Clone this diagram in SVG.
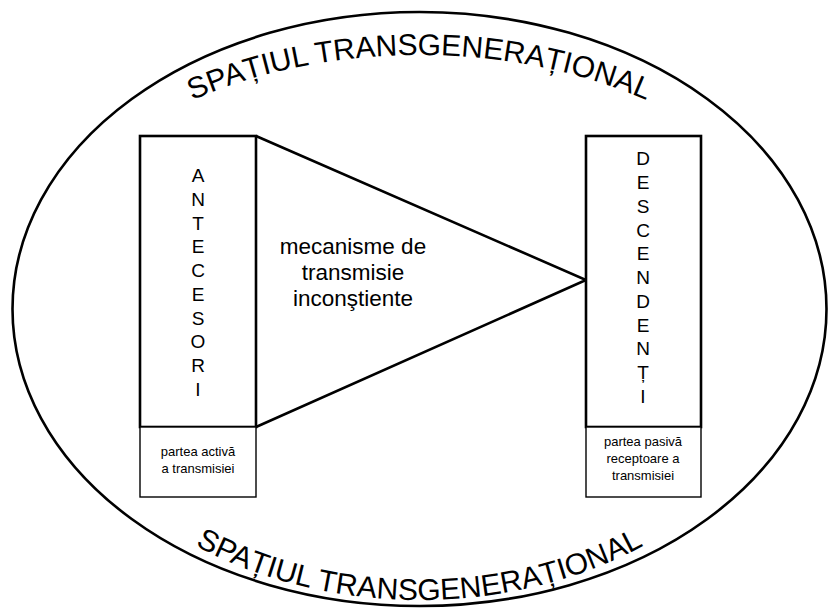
<svg xmlns="http://www.w3.org/2000/svg" xmlns:xlink="http://www.w3.org/1999/xlink" width="829" height="612" viewBox="0 0 829 612">
<style>
.frame{fill:none;stroke:#000;stroke-width:2.6}
.box{fill:#fff;stroke:#000;stroke-width:2.6}
.sub{fill:#fff;stroke:#000;stroke-width:1.4}
.vert{font-family:"Liberation Sans",Arial,sans-serif;font-size:19px;fill:#000;text-anchor:middle}
.small{font-family:"Liberation Sans",Arial,sans-serif;font-size:13px;fill:#000;text-anchor:middle}
.mid{font-family:"Liberation Sans",Arial,sans-serif;font-size:22.5px;fill:#000;text-anchor:middle}
.arc{font-family:"Liberation Sans",Arial,sans-serif;font-size:30px;fill:#000;text-anchor:middle}
.line{fill:none;stroke:#000;stroke-width:2.6;stroke-linejoin:miter}
</style>
<defs>
<path id="topArc" d="M 21,309 A 398.5,254 0 0 1 818,309"/>
<path id="botArc" d="M 34.5,309 A 385,291 0 0 0 804.5,309"/>
</defs>
<rect width="829" height="612" fill="#fff"/>
<g id="spatiul">
<ellipse class="frame" cx="419.5" cy="309" rx="407" ry="297"/>
<text class="arc"><textPath xlink:href="#topArc" href="#topArc" startOffset="50%">SPAȚIUL TRANSGENERAȚIONAL</textPath></text>
<text class="arc"><textPath xlink:href="#botArc" href="#botArc" startOffset="50%">SPAȚIUL TRANSGENERAȚIONAL</textPath></text>
</g>
<g id="connectors">
<polyline class="line" points="256,136 586,280 256,427"/>
</g>
<g id="antecesori">
<rect class="box" x="140" y="136" width="116" height="291"/>
<rect class="sub" x="140" y="427" width="116" height="70"/>
<text class="vert" x="198" y="182">A</text>
<text class="vert" x="198" y="206">N</text>
<text class="vert" x="198" y="230">T</text>
<text class="vert" x="198" y="253">E</text>
<text class="vert" x="198" y="277">C</text>
<text class="vert" x="198" y="301">E</text>
<text class="vert" x="198" y="325">S</text>
<text class="vert" x="198" y="348">O</text>
<text class="vert" x="198" y="372">R</text>
<text class="vert" x="198" y="396">I</text>
<text class="small" x="198" y="456">partea activă</text>
<text class="small" x="198" y="473">a transmisiei</text>
</g>
<g id="descendenti">
<rect class="box" x="586" y="136" width="115" height="291"/>
<rect class="sub" x="586" y="427" width="115" height="70"/>
<text class="vert" x="643" y="165">D</text>
<text class="vert" x="643" y="189">E</text>
<text class="vert" x="643" y="213">S</text>
<text class="vert" x="643" y="237">C</text>
<text class="vert" x="643" y="260">E</text>
<text class="vert" x="643" y="284">N</text>
<text class="vert" x="643" y="308">D</text>
<text class="vert" x="643" y="332">E</text>
<text class="vert" x="643" y="355">N</text>
<text class="vert" x="643" y="379">Ț</text>
<text class="vert" x="643" y="403">I</text>
<text class="small" x="643" y="446">partea pasivă</text>
<text class="small" x="643" y="463">receptoare a</text>
<text class="small" x="643" y="480">transmisiei</text>
</g>
<g id="mecanisme">
<text class="mid" x="353" y="254">mecanisme de</text>
<text class="mid" x="353" y="280">transmisie</text>
<text class="mid" x="353" y="306">inconştiente</text>
</g>
</svg>
